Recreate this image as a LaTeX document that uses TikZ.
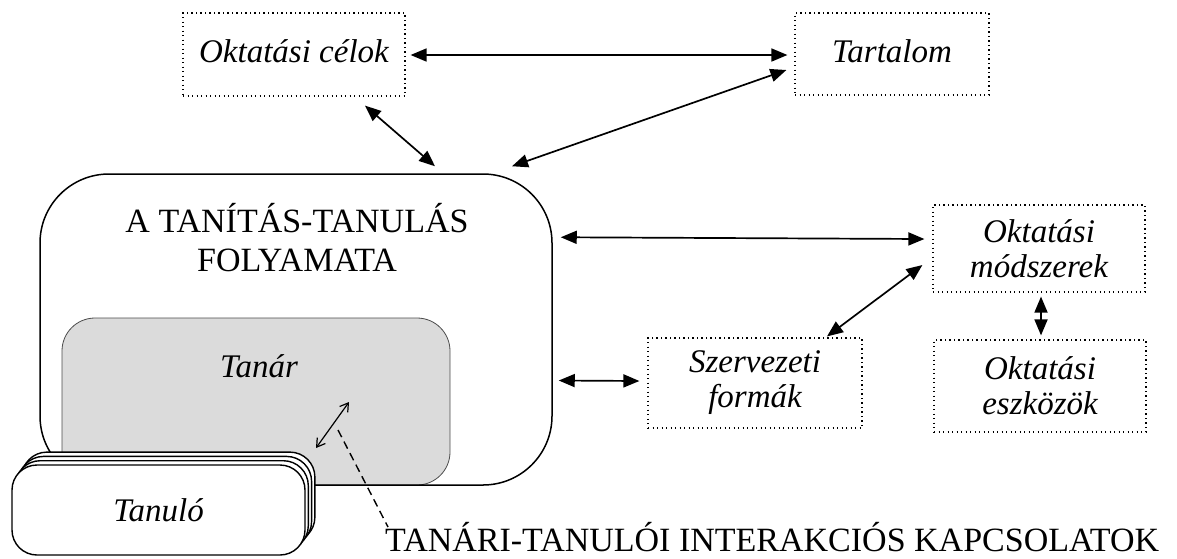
\documentclass[tikz,border=0pt]{standalone}
\usepackage{fontspec}
\setmainfont{Liberation Serif}
\usetikzlibrary{arrows.meta,calc}
\tikzset{
  labelfont/.style={font=\fontsize{33}{35}\selectfont\itshape},
  box/.style={draw, line width=1.2pt, dash pattern=on 1.3pt off 3.2pt, labelfont, align=center, inner sep=0pt},
  bigbox/.style={draw, line width=1.5pt, rounded corners=69pt, minimum width=512pt, minimum height=311pt, inner sep=0pt},
  tanarbox/.style={draw=black!70, line width=0.8pt, fill=black!14, rounded corners=33pt, minimum width=388pt, minimum height=167pt, inner sep=0pt},
  stackbox/.style={draw, line width=1.4pt, fill=white, rounded corners=25pt, minimum width=293pt, minimum height=90pt, inner sep=0pt, labelfont},
  bigarrow/.style={line width=1.7pt, {Triangle[length=16pt,width=13pt]}-{Triangle[length=16pt,width=13pt]}},
  thinarrow/.style={line width=1.2pt, {Straight Barb[length=8pt,width=10pt]}-{Straight Barb[length=8pt,width=10pt]}},
  capsfont/.style={font=\fontsize{34}{39}\selectfont}
}
\begin{document}
\begin{tikzpicture}[x=1pt,y=-1pt]
\useasboundingbox (0,0) rectangle (1177,558);
% shaded teacher area and the big process box
\node[tanarbox] (tanar) at (256,401.5) {};
\node[bigbox] (big) at (296,329.5) {};
\node[labelfont] (tanartxt) at (259,366) {Tanár};
\node[capsfont, align=center] (title) at (297,238) {A TANÍTÁS-TANULÁS\\FOLYAMATA};
% stacked learner cards
\foreach \k in {3,2,1}{
  \node[stackbox] (tanulo\k) at ({158.5+3.3*\k},{510-4.3*\k}) {};
}
\node[stackbox] (tanulo) at (158.5,510) {Tanuló};
% dotted boxes
\node[box, minimum width=222pt, minimum height=83pt] (celok) at (294,54.5) {\raisebox{6pt}{Oktatási célok}};
\node[box, minimum width=194pt, minimum height=82pt] (tartalom) at (892,54) {\raisebox{6pt}{Tartalom}};
\node[box, minimum width=212pt, minimum height=87pt] (modsz) at (1039,248.5) {Oktatási\\módszerek};
\node[box, minimum width=214pt, minimum height=90pt] (szerv) at (755,383) {Szervezeti\\formák};
\node[box, minimum width=212pt, minimum height=92pt] (eszk) at (1040,386) {Oktatási\\eszközök};
% bottom label
\node[anchor=base west, font=\fontsize{34}{34}\selectfont, inner sep=0pt, text depth=0pt] (interakcio) at (385,551) {TANÁRI-TANULÓI INTERAKCIÓS KAPCSOLATOK};
% connectors
\draw[bigarrow] ($(celok.east)+(5,0.5)$) -- ($(tartalom.west)+(-7,1)$);
\draw[bigarrow] ($(celok.south)+(71,9)$) -- ($(big.north)+(139,-7)$);
\draw[bigarrow] ($(tartalom.west)+(-8,16)$) -- ($(big.north)+(216,-7)$);
\draw[bigarrow] ($(big.north east)+(8,64)$) -- ($(modsz.west)+(-8,-9.5)$);
\draw[bigarrow] ($(szerv.north)+(72,-1)$) -- ($(modsz.west)+(-10,16.5)$);
\draw[bigarrow] ($(modsz.south)+(2,4)$) -- ($(eszk.north)+(1,-4)$);
\draw[bigarrow] ($(big.east)+(6,51)$) -- ($(szerv.west)+(-8,-2)$);
% interaction arrow and dashed pointer
\coordinate (ia1) at (316,448);
\coordinate (ia2) at (349,402);
\draw[thinarrow] (ia1) -- (ia2);
\coordinate (dstart) at (338,430);
\draw[line width=1.4pt, dash pattern=on 8pt off 5pt] (dstart) -- ($(interakcio.base west)+(3,-24)$);
\end{tikzpicture}
\end{document}
